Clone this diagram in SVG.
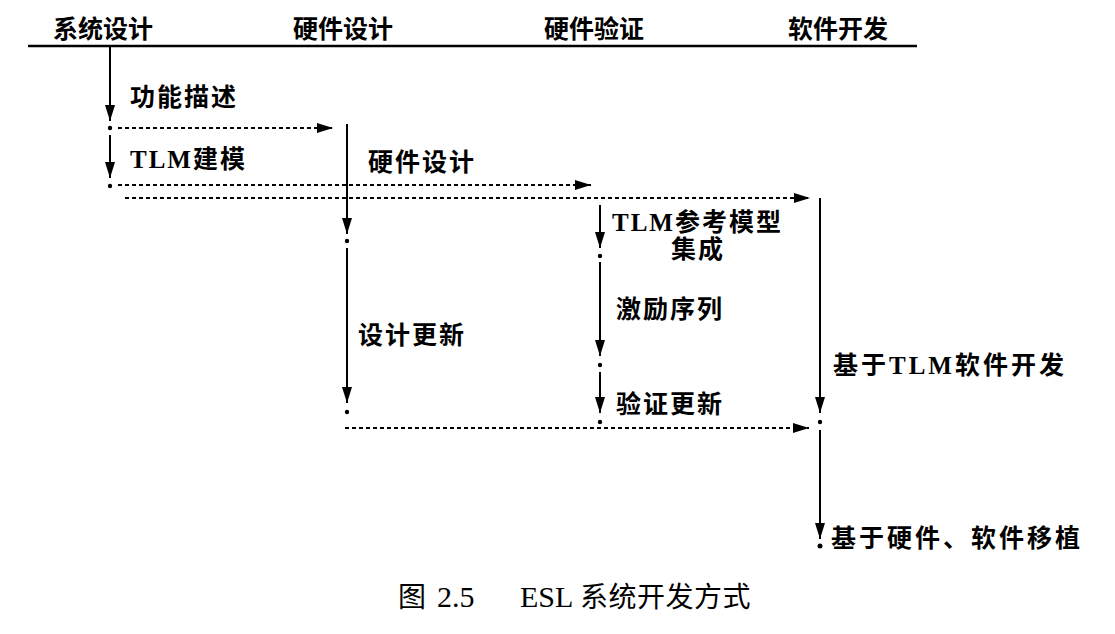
<svg xmlns="http://www.w3.org/2000/svg" width="1115" height="634" viewBox="0 0 1115 634">
<defs>
<marker id="ah" markerUnits="userSpaceOnUse" markerWidth="16" markerHeight="10" refX="16" refY="5" orient="auto">
<path d="M0,0 L16,5 L0,10 z" fill="#000"/>
</marker>
<style>
.lbl{font-family:"Liberation Serif","Noto Sans CJK SC",serif;font-weight:bold;font-size:25px;fill:#000;letter-spacing:2px}
.hdr{font-family:"Liberation Serif","Noto Sans CJK SC",serif;font-weight:bold;font-size:25px;fill:#000;text-anchor:middle}
.cap{font-family:"Liberation Serif","Noto Sans CJK SC",serif;font-size:28px;fill:#000}
.solid{stroke:#000;stroke-width:2;fill:none;marker-end:url(#ah)}
.dash{stroke:#000;stroke-width:2;fill:none;stroke-dasharray:4 3;marker-end:url(#ah)}
.dot{fill:#000}
</style>
</defs>
<rect width="1115" height="634" fill="#fff"/>
<g id="header">
<line x1="28" y1="46" x2="917" y2="46" stroke="#000" stroke-width="2.5"/>
<text class="hdr" x="103" y="38">系统设计</text>
<text class="hdr" x="343" y="38">硬件设计</text>
<text class="hdr" x="594" y="38">硬件验证</text>
<text class="hdr" x="838" y="38">软件开发</text>
</g>
<g id="connectors">
<line class="solid" x1="110" y1="46" x2="110" y2="121"/>
<line class="dash" x1="118" y1="128" x2="333" y2="128"/>
<line class="solid" x1="110" y1="135" x2="110" y2="178"/>
<line class="dash" x1="118" y1="185" x2="591" y2="185"/>
<line class="dash" x1="125" y1="198" x2="810" y2="198"/>
<line class="solid" x1="347" y1="124" x2="347" y2="234"/>
<line class="solid" x1="347" y1="248" x2="347" y2="403"/>
<line class="dash" x1="345" y1="428" x2="809" y2="428"/>
<line class="solid" x1="600" y1="205" x2="600" y2="248"/>
<line class="solid" x1="600" y1="262" x2="600" y2="356"/>
<line class="solid" x1="600" y1="372" x2="600" y2="413"/>
<line class="solid" x1="820" y1="198" x2="820" y2="413"/>
<line class="solid" x1="820" y1="430" x2="820" y2="539"/>
<circle class="dot" cx="110" cy="128" r="2.2"/>
<circle class="dot" cx="110" cy="186" r="2.2"/>
<circle class="dot" cx="347" cy="241" r="2.2"/>
<circle class="dot" cx="347" cy="412" r="2.2"/>
<circle class="dot" cx="600" cy="256" r="2.2"/>
<circle class="dot" cx="600" cy="365" r="2.2"/>
<circle class="dot" cx="600" cy="422" r="2.2"/>
<circle class="dot" cx="820" cy="422" r="2.2"/>
<circle class="dot" cx="820" cy="546" r="2.5"/>
</g>
<g id="n-func"><text class="lbl" x="130" y="106">功能描述</text></g>
<g id="n-tlm"><text class="lbl" x="130" y="168">TLM建模</text></g>
<g id="n-hw"><text class="lbl" x="368" y="171">硬件设计</text></g>
<g id="n-ref"><text class="lbl" x="612" y="231">TLM参考模型</text><text class="lbl" x="698" y="258" text-anchor="middle">集成</text></g>
<g id="n-stim"><text class="lbl" x="616" y="318">激励序列</text></g>
<g id="n-dupd"><text class="lbl" x="358" y="344">设计更新</text></g>
<g id="n-vupd"><text class="lbl" x="616" y="413">验证更新</text></g>
<g id="n-sw"><text class="lbl" x="833" y="374" style="letter-spacing:3px">基于TLM软件开发</text></g>
<g id="n-port"><text class="lbl" x="831" y="547" style="letter-spacing:3px">基于硬件、软件移植</text></g>
<g id="caption"><text class="cap" y="607"><tspan x="398">图</tspan><tspan x="437" style="font-size:30px">2.5</tspan><tspan x="520" style="font-size:30px">ESL</tspan><tspan x="580" style="letter-spacing:0.5px">系统开发方式</tspan></text></g>
</svg>
